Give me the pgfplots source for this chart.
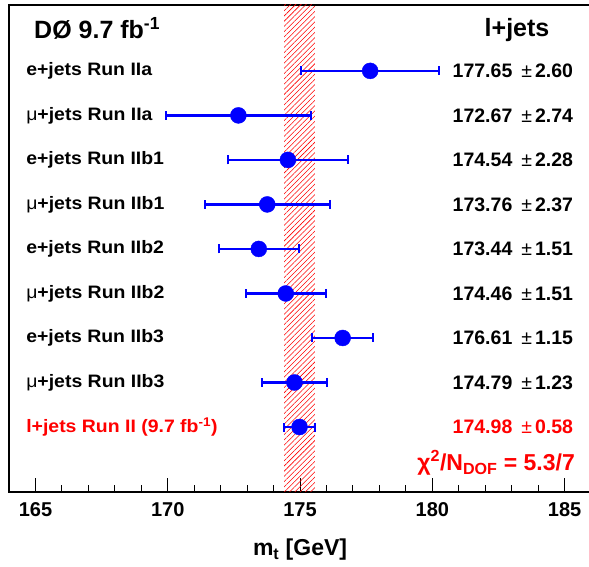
\documentclass[border=0pt]{standalone}
\usepackage{fontspec}
\setmainfont{Liberation Sans}
\newfontfamily\labelfont{Liberation Sans}[FakeStretch=1.08]
\usepackage{pgfplots}
\usepackage{pgfplotstable}
\pgfplotsset{compat=1.18}
\usetikzlibrary{patterns,patterns.meta}
\newcommand{\fs}[1]{\fontsize{#1}{#1}\selectfont\bfseries}
\newcommand{\pmv}{\hspace{9pt}{\mdseries ±}\hspace{3pt}}
\pgfplotstableread{
x y ex
177.65 9 2.60
172.67 8 2.74
174.54 7 2.28
173.76 6 2.37
173.44 5 1.51
174.46 4 1.51
176.61 3 1.15
174.79 2 1.23
174.98 1 0.58
}\meas
\begin{document}
\begin{tikzpicture}
\path[use as bounding box] (0,0) rectangle (589pt,567pt);
\begin{axis}[
  at={(9pt,75pt)}, anchor=south west,
  scale only axis, width=582.1pt, height=487pt,
  xmin=164, xmax=186, ymin=-0.46, ymax=10.48,
  ytick=\empty,
  xtick={165,170,175,180,185},
  xticklabels={\textbf{165},\textbf{170},\textbf{175},\textbf{180},\textbf{185}},
  minor x tick num=4,
  xtick pos=bottom, tick align=inside,
  major tick length=14pt, minor tick length=7pt,
  every tick/.style={black, line width=1pt},
  axis line style={line width=1.6pt},
  xticklabel style={font=\fs{20}, yshift=-7pt},
  xlabel={m\textsubscript{t} [GeV]},
  xlabel style={font=\fs{23}, at={(axis description cs:0.5,0)}, anchor=center, yshift=-58pt},
  every node/.append style={inner sep=0pt},
]
\addplot[draw=none, pattern={Lines[angle=45,distance=3.7pt,line width=0.55pt]}, pattern color=red]
  coordinates {(174.40,-1) (175.56,-1) (175.56,12) (174.40,12)} -- cycle;
\addplot[only marks, mark=*, mark size=8pt, color=blue, line width=2.3pt,
  mark options={fill=blue, draw=blue, line width=0.4pt},
  error bars/.cd, x dir=both, x explicit,
  error bar style={line width=2.3pt, blue},
  error mark options={line width=2pt, mark size=4.5pt, blue, rotate=90}]
  table[x=x, y=y, x error=ex]{\meas};
\node[anchor=west, font=\fs{25}] at (axis cs:164.82,9.96) {DØ 9.7 fb\textsuperscript{-1}};
\node[anchor=center, font=\fs{25}] at (axis cs:183.2,9.92) {l+jets};
\node[anchor=west, font=\labelfont\fs{18}] at (axis cs:164.52,9) {e+jets Run IIa};
\node[anchor=west, font=\labelfont\fs{18}] at (axis cs:164.52,8) {{\mdseries μ}+jets Run IIa};
\node[anchor=west, font=\labelfont\fs{18}] at (axis cs:164.52,7) {e+jets Run IIb1};
\node[anchor=west, font=\labelfont\fs{18}] at (axis cs:164.52,6) {{\mdseries μ}+jets Run IIb1};
\node[anchor=west, font=\labelfont\fs{18}] at (axis cs:164.52,5) {e+jets Run IIb2};
\node[anchor=west, font=\labelfont\fs{18}] at (axis cs:164.52,4) {{\mdseries μ}+jets Run IIb2};
\node[anchor=west, font=\labelfont\fs{18}] at (axis cs:164.52,3) {e+jets Run IIb3};
\node[anchor=west, font=\labelfont\fs{18}] at (axis cs:164.52,2) {{\mdseries μ}+jets Run IIb3};
\node[anchor=west, font=\labelfont\fs{18}, red] at (axis cs:164.52,1) {l+jets Run II (9.7 fb\textsuperscript{-1})};
\node[anchor=east, font=\fs{19.5}] at (axis cs:185.45,9) {177.65\pmv2.60};
\node[anchor=east, font=\fs{19.5}] at (axis cs:185.45,8) {172.67\pmv2.74};
\node[anchor=east, font=\fs{19.5}] at (axis cs:185.45,7) {174.54\pmv2.28};
\node[anchor=east, font=\fs{19.5}] at (axis cs:185.45,6) {173.76\pmv2.37};
\node[anchor=east, font=\fs{19.5}] at (axis cs:185.45,5) {173.44\pmv1.51};
\node[anchor=east, font=\fs{19.5}] at (axis cs:185.45,4) {174.46\pmv1.51};
\node[anchor=east, font=\fs{19.5}] at (axis cs:185.45,3) {176.61\pmv1.15};
\node[anchor=east, font=\fs{19.5}] at (axis cs:185.45,2) {174.79\pmv1.23};
\node[anchor=east, font=\fs{19.5}, red] at (axis cs:185.45,1) {174.98\pmv0.58};
\node[anchor=east, font=\fs{23}, red] at (axis cs:185.52,0.19) {χ\textsuperscript{2}/N\textsubscript{DOF} = 5.3/7};
\end{axis}
\end{tikzpicture}
\end{document}
